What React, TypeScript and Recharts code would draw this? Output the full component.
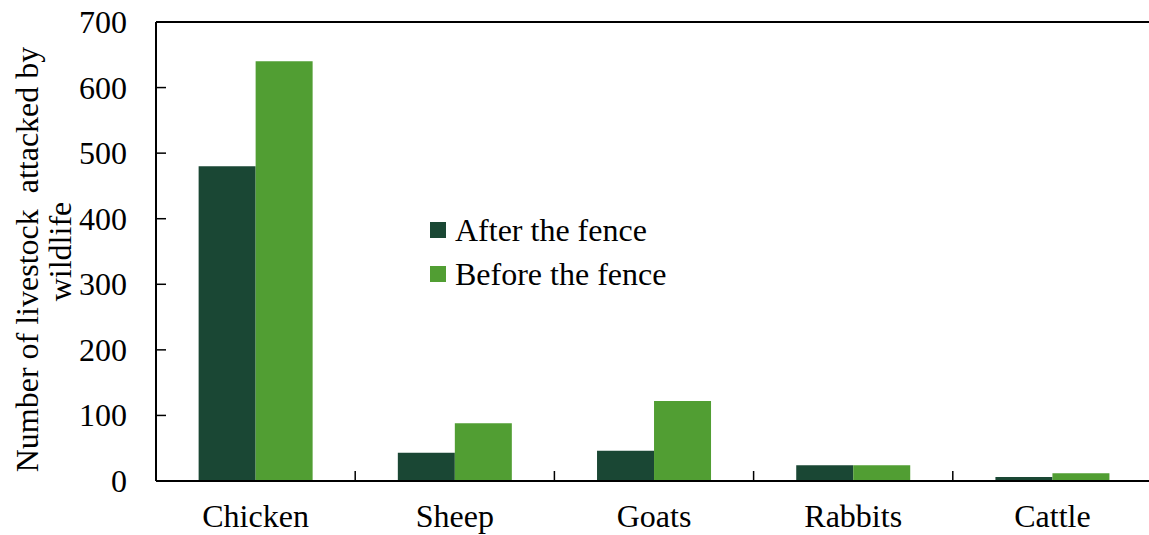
import React from 'react';
import { BarChart, Bar, XAxis, YAxis, Legend, ReferenceLine } from 'recharts';

const categories = ['Chicken', 'Sheep', 'Goats', 'Rabbits', 'Cattle'];
const afterFence = [480, 43, 46, 24, 6];
const beforeFence = [640, 88, 122, 24, 12];
const yTicks = [0, 100, 200, 300, 400, 500, 600, 700];

const SERIES = [
  { key: 'after', name: 'After the fence', color: '#1a4734', values: afterFence },
  { key: 'before', name: 'Before the fence', color: '#519e33', values: beforeFence },
];

const data = categories.map((cat, i) => {
  const row: Record<string, string | number> = { cat };
  for (const s of SERIES) row[s.key] = s.values[i];
  return row;
});

const FONT = 'Liberation Serif, DejaVu Serif, serif';

const XTick = (props: any) => {
  const { x, y, payload } = props;
  const half = payload?.offset ?? 99.6;
  return (
    <g>
      <line x1={x - half} y1={y} x2={x - half} y2={y - 10} stroke="#000" strokeWidth={1.5} />
      <text x={x} y={y + 46} textAnchor="middle" style={{ fontFamily: FONT, fontSize: 32 }} fill="#000">
        {payload.value}
      </text>
    </g>
  );
};

const YTick = (props: any) => {
  const { x, y, payload } = props;
  return (
    <g>
      <line x1={x} y1={y} x2={x + 10} y2={y} stroke="#000" strokeWidth={1.5} />
      <text x={x - 29} y={y + 11} textAnchor="end" style={{ fontFamily: FONT, fontSize: 32 }} fill="#000">
        {payload.value}
      </text>
    </g>
  );
};

const YLabel = (props: any) => {
  const vb = props.viewBox || { x: 0, y: 22, width: 156, height: 459 };
  const cx = 27;
  const cy = vb.y + vb.height / 2;
  return (
    <text
      x={cx}
      y={cy}
      transform={`rotate(-90, ${cx}, ${cy})`}
      textAnchor="middle"
      dominantBaseline="central"
      fill="#000"
      style={{ whiteSpace: 'pre', fontFamily: FONT, fontSize: 32 }}
    >
      <tspan x={cx - 8} dy={0}>Number of livestock  attacked by</tspan>
      <tspan x={cx} dy={33}>wildlife</tspan>
    </text>
  );
};

const renderLegend = (props: any) => {
  const { payload } = props;
  return (
    <div style={{ fontFamily: FONT, fontSize: 32, color: '#000' }}>
      {payload.map((entry: any) => (
        <div key={entry.value} style={{ display: 'flex', alignItems: 'center', height: 44 }}>
          <span style={{ display: 'inline-block', width: 16, height: 16, background: entry.color, marginRight: 9 }} />
          <span style={{ lineHeight: '44px' }}>{entry.value}</span>
        </div>
      ))}
    </div>
  );
};

export default function App() {
  return (
    <div style={{ position: 'absolute', left: 0, top: 0, width: 1149, height: 535, overflow: 'hidden', background: '#fff' }}>
      <BarChart
        width={1160}
        height={535}
        data={data}
        margin={{ top: 22, right: 8, bottom: 0, left: 0 }}
        barCategoryGap="21.4%"
        barGap={0}
      >
        <XAxis
          dataKey="cat"
          height={54}
          axisLine={{ stroke: '#000', strokeWidth: 2 }}
          tickLine={false}
          tickSize={0}
          tickMargin={0}
          tick={<XTick />}
          interval={0}
        />
        <YAxis
          width={156}
          domain={[0, 700]}
          ticks={yTicks}
          interval={0}
          axisLine={{ stroke: '#000', strokeWidth: 2 }}
          tickLine={false}
          tickSize={0}
          tickMargin={0}
          tick={<YTick />}
          label={<YLabel />}
        />
        <ReferenceLine y={700} stroke="#000" strokeWidth={2} />
        <Legend
          layout="vertical"
          align="center"
          verticalAlign="middle"
          content={renderLegend}
          wrapperStyle={{ left: 430, top: 208, width: 'auto' }}
        />
        {SERIES.map((s) => (
          <Bar key={s.key} dataKey={s.key} name={s.name} fill={s.color} isAnimationActive={false} />
        ))}
      </BarChart>
    </div>
  );
}
